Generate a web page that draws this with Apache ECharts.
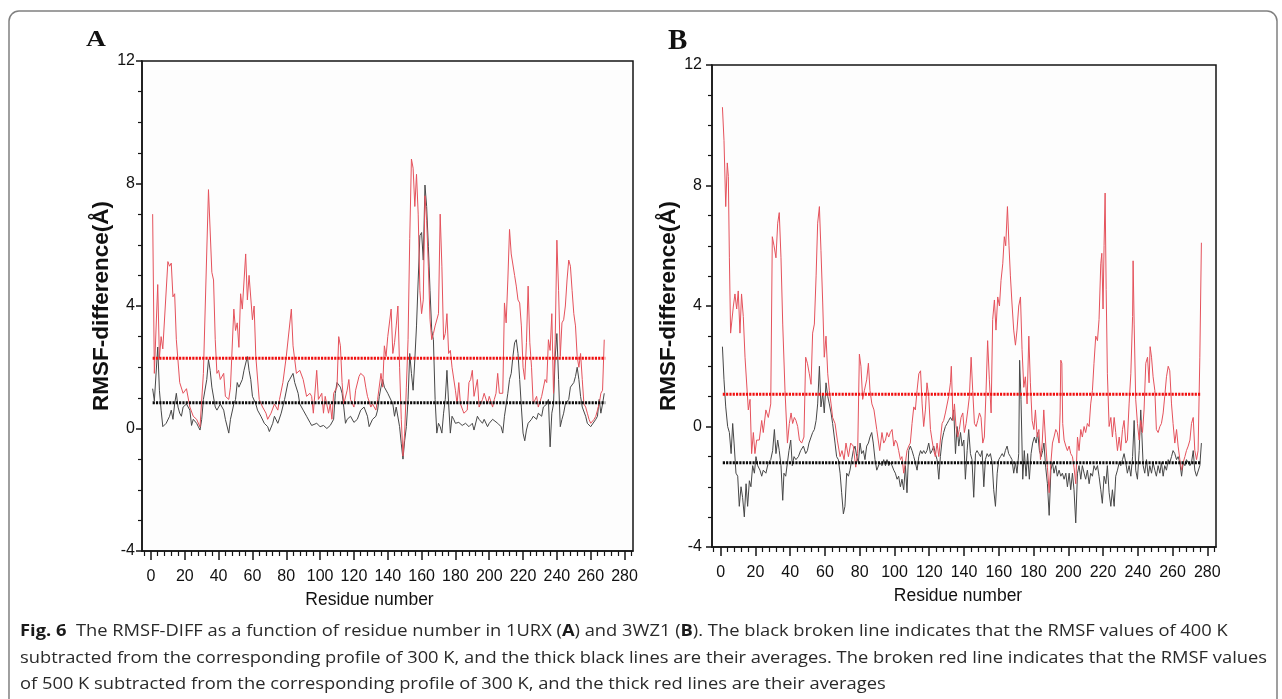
<!DOCTYPE html>
<html>
<head>
<meta charset="utf-8">
<script src="https://cdn.jsdelivr.net/npm/echarts@6/dist/echarts.min.js"></script>
<style>
html,body{margin:0;padding:0;background:#fff;}
#chart{width:1282px;height:699px;}
</style>
</head>
<body>
<div id="chart"></div>
<script>
// ---------- DATA (residue number, RMSF difference in Å) ----------
// Panel A (1URX): 500 K - 300 K (red) and 400 K - 300 K (black)
const A_RED = [[1,7.0],[2,1.8],[4,4.7],[5,2.3],[6,3.0],[7,2.6],[10,5.45],[11,5.3],[12,5.4],[13,4.3],[14,4.4],[15,2.9],[17,1.5],[19,1.15],[21,1.3],[23,0.7],[25,0.4],[27,0.3],[29,0.05],[31,1.8],[34,7.8],[36,5.1],[37,4.85],[38,2.9],[39,1.8],[40,1.9],[41,1.6],[43,1.8],[44,1.05],[46,0.95],[47,1.35],[49,3.9],[50,3.2],[51,3.45],[52,2.65],[53,4.4],[54,3.9],[56,5.7],[57,4.2],[58,5.0],[60,3.55],[61,4.0],[62,2.35],[64,0.95],[66,0.7],[68,0.5],[69,0.3],[71,0.5],[73,0.8],[75,0.6],[76,0.95],[78,1.5],[80,2.35],[83,3.9],[84,2.7],[85,2.25],[86,1.8],[88,1.9],[90,1.6],[92,1.05],[94,1.15],[95,1.05],[96,0.5],[98,1.9],[99,0.95],[101,1.15],[102,0.5],[103,1.05],[105,0.5],[106,0.8],[107,0.3],[108,1.15],[110,1.35],[111,3.0],[112,2.7],[113,1.5],[114,0.8],[116,1.25],[117,1.6],[118,0.95],[120,0.7],[121,1.25],[123,1.7],[124,1.8],[126,1.7],[127,1.35],[128,1.05],[130,0.7],[131,0.8],[133,0.6],[134,0.95],[136,1.8],[137,1.35],[138,2.7],[139,2.35],[140,3.0],[142,3.9],[143,2.45],[144,2.8],[145,3.35],[146,4.0],[147,2.0],[148,0.3],[149,-0.9],[150,-0.15],[151,1.35],[152,2.9],[153,6.2],[154,8.8],[155,8.5],[156,7.25],[157,8.3],[158,7.0],[159,4.5],[160,3.75],[161,4.2],[162,7.6],[163,6.8],[164,5.3],[165,3.55],[166,2.9],[167,3.1],[168,3.35],[170,3.75],[171,7.0],[172,5.3],[173,2.9],[174,3.1],[175,3.75],[176,2.45],[177,2.55],[178,2.0],[180,1.25],[181,0.8],[182,1.5],[183,0.8],[185,0.5],[187,0.6],[188,1.5],[189,1.6],[190,1.9],[191,1.05],[193,1.6],[194,0.7],[196,0.95],[197,1.15],[199,0.8],[200,1.05],[202,0.7],[203,0.95],[204,1.15],[205,1.8],[206,1.15],[208,1.15],[209,4.1],[210,3.45],[211,4.85],[212,6.5],[213,5.7],[215,5.0],[216,4.65],[217,4.2],[218,4.1],[219,3.35],[220,2.0],[221,1.6],[222,2.8],[223,4.65],[224,2.8],[225,2.0],[226,0.8],[228,1.05],[229,0.7],[231,1.05],[233,1.6],[234,1.5],[235,2.9],[236,2.55],[237,3.75],[238,1.15],[239,2.9],[240,6.15],[241,4.5],[242,2.35],[243,3.45],[244,3.55],[245,4.0],[246,4.85],[247,5.5],[248,5.3],[249,4.5],[250,3.75],[251,3.35],[252,2.35],[253,2.0],[254,2.45],[255,1.6],[256,0.8],[257,0.7],[258,0.5],[259,0.3],[260,0.17],[262,0.3],[263,0.4],[265,0.8],[266,1.15],[267,1.25],[268,2.9]];
const A_BLACK = [[1,1.3],[2,0.9],[4,2.66],[5,1.25],[6,0.6],[7,0.06],[8,0.0],[9,0.17],[11,0.4],[12,0.6],[13,0.3],[14,0.8],[15,1.15],[16,0.7],[17,0.5],[18,0.4],[19,0.7],[21,0.8],[23,0.6],[24,0.1],[25,0.3],[27,0.17],[28,0.06],[29,-0.05],[30,0.3],[31,0.95],[33,1.6],[34,2.25],[35,1.9],[36,1.35],[38,0.7],[39,0.6],[41,0.8],[43,0.6],[44,0.3],[46,-0.15],[47,0.3],[49,0.8],[50,0.95],[51,1.5],[52,1.35],[54,1.6],[55,1.9],[57,2.35],[58,1.9],[59,1.6],[60,1.05],[62,0.8],[63,0.6],[65,0.4],[67,0.17],[69,0.06],[70,-0.1],[72,0.17],[73,0.4],[75,0.17],[77,0.5],[79,0.95],[81,1.5],[82,1.6],[84,1.8],[85,1.5],[87,1.15],[88,0.8],[90,0.6],[92,0.4],[94,0.2],[95,0.1],[98,0.17],[100,0.06],[102,0.1],[104,0.0],[106,0.1],[108,0.3],[109,1.15],[110,1.5],[112,1.35],[113,1.15],[114,0.7],[115,0.17],[116,0.3],[118,0.4],[120,0.2],[122,0.3],[124,0.6],[126,0.7],[128,0.4],[129,0.06],[131,0.3],[133,0.4],[134,0.6],[135,1.05],[136,1.35],[137,1.6],[138,1.35],[140,1.15],[141,1.15],[143,0.8],[144,0.4],[145,0.7],[147,0.06],[148,-0.5],[149,-1.0],[150,-0.4],[151,0.06],[152,0.95],[153,2.45],[154,1.8],[155,1.25],[156,2.25],[157,3.35],[158,4.85],[159,6.3],[160,6.4],[161,5.5],[162,7.95],[163,7.25],[164,5.95],[165,4.5],[166,3.2],[167,2.9],[168,0.95],[169,-0.15],[170,0.17],[171,0.06],[172,-0.15],[173,0.5],[174,0.95],[175,1.9],[176,0.8],[177,-0.15],[178,0.4],[179,0.3],[180,0.17],[182,0.2],[184,0.1],[186,0.17],[188,0.06],[190,0.17],[191,-0.05],[193,0.4],[194,0.3],[196,0.17],[197,0.3],[199,0.06],[200,0.17],[202,0.3],[203,0.3],[205,0.17],[207,0.06],[208,-0.15],[209,0.4],[211,1.15],[212,1.6],[213,1.8],[214,2.35],[215,2.8],[216,2.9],[217,2.45],[218,1.6],[219,0.7],[220,-0.15],[221,-0.4],[222,-0.05],[223,0.17],[225,0.3],[226,0.4],[228,0.3],[229,0.5],[231,0.4],[232,0.7],[234,0.8],[235,0.95],[236,-0.6],[237,0.5],[238,0.8],[239,2.35],[240,3.1],[241,1.6],[242,0.06],[243,0.3],[244,0.5],[245,0.8],[247,0.95],[248,1.35],[250,1.5],[251,1.7],[252,2.0],[253,1.6],[254,1.05],[255,0.7],[257,0.4],[258,0.17],[260,0.06],[261,0.0],[263,0.3],[264,0.4],[265,0.95],[266,0.5],[267,0.8],[268,1.15]];
// Panel B (3WZ1)
const B_RED = [[1,10.6],[1.9,9.5],[2.9,7.3],[3.8,8.75],[4.4,8.3],[5,5.6],[5.7,3.1],[6.3,3.05],[7.3,4.0],[8.2,4.4],[9.2,3.9],[10.1,4.5],[11.1,3.1],[12,4.4],[13,3.65],[14,2.3],[15,2.3],[15.9,0.55],[16.9,0.9],[17.8,-0.9],[18.8,-0.2],[19.7,-0.9],[20.7,-0.45],[22.2,-0.45],[23.6,0.2],[24.5,-0.2],[26,0.55],[27.4,0.3],[28.8,0.75],[29.7,6.3],[30.7,6.0],[31.8,5.6],[32.8,6.75],[33.7,7.1],[34.7,5.6],[35.7,3.4],[37,1.2],[38.4,-0.55],[39.5,0.1],[40.5,0.45],[41.4,0.1],[42.4,0.3],[43.3,0.2],[44.3,0],[45.3,-0.45],[46.6,-0.55],[47.9,-0.35],[48.9,2.3],[49.9,2.1],[51,1.75],[52,1.4],[52.9,3.1],[53.9,3.4],[54.9,5.0],[55.8,6.75],[56.8,7.3],[57.7,5.85],[58.7,4.1],[59.6,2.3],[60.6,3.0],[61.6,1.75],[62.5,1.2],[63.5,0.75],[64.4,0.3],[65.8,0.1],[67.1,-0.45],[68.7,-1.0],[69.8,-0.8],[71,-1.1],[72.1,-0.55],[73.5,-1.0],[74.8,-0.55],[76.3,-0.65],[77.7,-1.35],[78.8,-0.9],[79.8,2.4],[80.7,2.0],[81.7,0.9],[82.7,1.2],[84,1.55],[85,2.1],[85.9,1.2],[87,0.75],[88.2,0.55],[89.8,-0.1],[91.5,-0.8],[92.8,-0.2],[93.8,-0.55],[94.8,-0.45],[95.7,-0.2],[96.7,-0.35],[97.6,-0.2],[98.6,-0.1],[99.6,-0.65],[100.5,-0.45],[101.5,-0.55],[102.4,-0.8],[103.4,-1.1],[104.3,-1.0],[105.3,-1.55],[106.3,-1.2],[107.2,-0.8],[108.2,-0.65],[109.1,-0.55],[110.1,0.1],[111.1,0.65],[112,0.55],[113,1.2],[114,1.75],[115,1.85],[115.9,0.75],[116.8,0],[117.8,0.55],[118.7,1.45],[119.7,1.0],[120.7,-0.1],[121.6,-0.45],[122.6,-0.8],[123.5,-1.0],[124.5,-0.55],[125.5,-1.0],[126.4,-0.45],[127.4,0.1],[128.3,0.2],[129.3,0.45],[130.3,0.45],[131.2,1.0],[132.2,1.45],[132.7,2.0],[133.7,0.2],[134.5,0.75],[135.4,0],[136.4,-0.35],[137.3,-0.1],[138.3,0.3],[139.3,0.45],[140.2,-0.2],[141.2,0.1],[142.2,0.55],[143.1,1.0],[144.1,2.3],[145,1.2],[146,0.1],[147,0],[147.9,0.2],[148.9,0.45],[149.8,0.3],[150.8,-0.55],[151.7,-0.35],[152.7,1.2],[153.6,2.85],[154.6,1.55],[155.6,0.45],[156.5,3.55],[157.5,4.2],[158.4,3.2],[159.4,4.3],[160.4,4.0],[161.3,4.85],[162.3,5.4],[163.2,6.3],[164,6.0],[165,7.3],[165.9,6.0],[166.7,5.0],[167.6,4.1],[168.6,3.2],[169.6,2.7],[170.5,3.2],[171.5,4.0],[172.5,4.3],[173.4,2.55],[174.4,1.3],[175.3,1.65],[176.3,0.75],[177.3,3.0],[178.2,1.45],[179.2,0.2],[180.2,-0.1],[181.1,0.55],[182.1,-0.35],[183.1,-0.1],[184,-1.1],[185,-0.55],[185.9,0.55],[187,-0.55],[188,-1.35],[189,-2.2],[190,-1.2],[190.9,-0.55],[191.8,-0.35],[192.8,-0.1],[193.7,-0.2],[194.7,-0.55],[195.3,0.45],[195.7,2.2],[196.3,2.1],[196.8,0.1],[197.6,-0.45],[198.6,-0.65],[199.5,-0.8],[200.5,-0.65],[201.4,-0.9],[202.4,-1.0],[203.3,-1.35],[204.3,-1.9],[205.3,-0.35],[206.2,-0.8],[207.2,-0.1],[208.1,-0.35],[209.1,0],[210,-0.2],[211,0.1],[212,0],[212.9,0.75],[213.9,1.2],[214.8,2.1],[215.8,3.0],[216.8,2.85],[217.7,3.55],[218.7,5.4],[219.3,5.75],[220,3.9],[220.6,6.0],[221.2,7.75],[221.8,4.55],[222.5,1.75],[223.5,0],[224.5,0.3],[225.4,-0.35],[226.4,0.3],[227.3,-0.2],[228.3,-0.8],[229.3,-0.35],[230.2,-0.8],[231.2,-0.1],[232.1,0.2],[233.1,-0.55],[234,-0.45],[235,0.75],[236,1.75],[237,3.65],[237.3,5.5],[237.9,3.4],[238.8,0.9],[239.8,0.1],[240.8,-0.45],[241.7,0.2],[242.7,-0.2],[243.6,0.55],[244.6,2.1],[245.6,2.3],[246.5,1.45],[247.1,2.65],[247.9,2.3],[248.8,1.65],[249.8,1.2],[250.7,-0.1],[251.7,-0.2],[252.7,0],[253.6,0.1],[254.6,0.45],[255.5,1.0],[256.5,1.65],[257.5,2.0],[258.4,1.85],[259.4,0.75],[260.3,0.1],[261.3,-0.55],[262.3,-0.1],[263.2,-0.65],[264.2,-1.1],[265.2,-1.45],[266.1,-1.2],[267.1,-1.0],[268,-0.8],[269,-0.65],[270,-0.45],[270.9,0.1],[271.9,0.3],[272.8,-0.8],[273.8,-1.1],[274.7,-0.8],[275.7,2.3],[276.6,6.1]];
const B_BLACK = [[1,2.65],[1.9,1.55],[2.9,0.65],[4,0],[5,-0.2],[6,-0.9],[6.9,0.1],[7.7,-0.55],[8.8,-1.55],[9.8,-1.65],[10.7,-2.65],[11.7,-2.0],[12.6,-2.35],[13.6,-3.0],[14.6,-1.9],[15.5,-2.65],[16.5,-1.8],[17.4,-2.0],[18.4,-1.3],[19.4,-1.55],[20.3,-1.0],[21.3,-1.3],[22.6,-1.45],[23.6,-1.65],[24.5,-1.45],[26,-1.55],[27.4,-1.2],[28.8,-1.1],[29.9,-0.8],[30.9,-0.1],[31.8,-0.9],[32.8,-0.45],[33.7,-0.8],[34.7,-1.3],[35.7,-2.45],[36.4,-1.55],[37.4,-1.65],[38.4,-1.2],[39.3,-0.8],[40.3,-0.45],[41.2,-1.3],[42.2,-1.0],[43.3,-1.1],[44.7,-1.0],[46,-0.8],[47.6,-0.65],[48.9,-0.9],[49.9,-0.8],[50.8,-0.55],[52,-0.35],[52.9,-0.2],[53.9,-0.1],[54.9,0.2],[55.8,0.75],[56.8,2.0],[57.7,0.65],[58.7,1.1],[59.6,0.45],[60.6,1.45],[61.6,1.0],[62.5,0.75],[63.5,0.45],[64.4,0.1],[65.8,-0.55],[66.7,-1.0],[67.7,-1.1],[68.7,-1.55],[69.6,-2.2],[70.6,-2.9],[71.5,-2.65],[72.5,-1.55],[73.5,-1.65],[74.4,-1.45],[75.4,-1.1],[76.3,-0.8],[77.3,-0.65],[78.3,-1.0],[79.2,-1.2],[80.2,-0.55],[81.1,-0.9],[82.1,-0.8],[83,-1.1],[84,-0.65],[85,-0.55],[85.9,-0.35],[86.9,-0.2],[87.8,-0.55],[88.8,-1.1],[89.8,-1.45],[91.5,-1.2],[92.8,-1.3],[93.8,-1.1],[94.8,-1.3],[95.7,-1.1],[96.7,-1.3],[97.6,-1.2],[98.6,-1.3],[99.6,-1.45],[100.5,-1.55],[101.5,-1.75],[102.4,-1.65],[103.4,-2.0],[104.3,-1.75],[105.3,-2.1],[106.3,-1.3],[107.2,-2.2],[108.2,-0.8],[109.1,-0.65],[110.1,-0.8],[111.1,-1.0],[112,-1.2],[113,-1.45],[114,-1.0],[115,-0.8],[115.9,-0.9],[116.8,-0.8],[117.8,-0.9],[118.7,-0.8],[119.7,-0.55],[120.7,-0.9],[121.6,-0.8],[122.6,-0.65],[123.5,-0.9],[124.5,-1.1],[125.5,-1.75],[126.4,-1.0],[127.4,-0.45],[128.3,-0.2],[129.3,0],[130.3,0.1],[131.2,0.2],[132.2,0.3],[133.2,0.2],[134.1,0.55],[135.1,-0.9],[136,0],[137,-0.65],[138,-0.2],[138.9,-0.65],[139.9,-0.45],[140.8,-1.75],[141.8,-0.8],[142.7,-0.1],[143.7,-0.9],[144.6,-1.1],[145.6,-2.35],[146.6,-0.9],[147.5,-0.8],[148.5,-0.9],[149.5,-1.0],[150.4,-0.8],[151.4,-2.0],[152.3,-1.1],[153.3,-0.9],[154.2,-1.0],[155.2,-0.9],[156.2,-1.2],[157.1,-2.1],[158.1,-2.65],[159.1,-1.55],[160,-1.1],[161,-1.0],[162,-0.9],[162.9,-1.0],[163.8,-0.8],[164.8,-0.65],[165.7,-0.9],[166.7,-1.0],[167.6,-1.1],[168.6,-1.55],[169.6,-1.2],[170.5,-1.55],[171.5,-0.9],[172,2.2],[172.8,0.9],[173.8,-1.75],[174.7,-0.8],[175.7,-1.65],[176.6,-0.9],[177.6,-1.75],[178.6,-0.9],[179.5,-0.55],[180.5,-0.35],[181.5,-0.55],[182.4,-0.2],[183.4,-0.8],[184.4,-1.0],[185.3,-0.8],[186,-0.55],[187,-1.35],[188,-1.9],[189,-2.95],[190,-1.45],[190.9,-1.2],[191.8,-1.55],[192.8,-1.3],[193.7,-1.65],[194.7,-1.45],[195.7,-1.65],[196.6,-1.55],[197.6,-1.75],[198.6,-1.55],[199.5,-2.0],[200.5,-1.55],[201.4,-2.1],[202.4,-1.55],[203.3,-2.1],[204.3,-3.2],[205.3,-1.55],[206.2,-1.3],[207.2,-1.75],[208.1,-1.3],[209.1,-1.55],[210,-1.75],[211,-1.45],[212,-1.9],[212.9,-1.55],[213.9,-1.65],[214.8,-1.3],[215.8,-1.45],[216.8,-1.3],[217.7,-1.65],[218.7,-2.1],[219.6,-2.55],[220.6,-1.65],[221.6,-1.9],[222.5,-1.3],[223.5,-2.2],[224.5,-2.65],[225.4,-2.1],[226.4,-2.65],[227.3,-1.65],[228.3,-1.45],[229.3,-1.2],[230.2,-1.3],[231.2,-1.1],[232.1,-0.9],[233.1,-1.2],[234,-1.55],[235,-1.3],[236,-1.65],[237,-1.0],[237.9,0.2],[238.8,-1.45],[239.8,-1.75],[240.8,-0.8],[241.7,0.55],[242.3,-0.2],[243.1,-1.3],[244,-1.55],[245,-1.1],[246,-1.65],[246.9,-1.3],[247.9,-1.55],[248.8,-1.2],[249.8,-1.45],[250.7,-1.65],[251.7,-1.3],[252.7,-1.55],[253.6,-1.2],[254.6,-1.65],[255.5,-1.3],[256.5,-1.45],[257.5,-1.1],[258.4,-1.2],[259.4,-1.0],[260.3,-0.8],[261.3,-0.9],[262.3,-1.1],[263.2,-1.0],[264.2,-1.2],[265.2,-1.65],[266.1,-1.2],[267.1,-1.3],[268,-1.1],[269,-1.2],[270,-1.3],[270.9,-1.2],[271.9,-0.8],[272.8,-1.45],[273.8,-1.65],[274.7,-1.65],[275.7,-1.3],[276.6,-0.55]];
// averages [red (500 K), black (400 K)] and the residue span they cover
const A_AVG = [2.29, 0.84];
const B_AVG = [1.07, -1.2];
const A_SPAN = [1, 268.6];
const B_SPAN = [1.2, 276.4];
// axis ticks
const X_TICKS = [0,20,40,60,80,100,120,140,160,180,200,220,240,260,280];
const X_MINOR = [-4,4,8,12,16,24,28,32,36,44,48,52,56,64,68,72,76,84,88,92,96,104,108,112,116,124,128,132,136,144,148,152,156,164,168,172,176,184,188,192,196,204,208,212,216,224,228,232,236,244,248,252,256,264,268,272,276,284];
const Y_RANGE = [-4, 12];
const X_NAME = 'Residue number';
const Y_NAME = 'RMSF-difference(Å)';
const CAPTION = [
  '{b|Fig. 6}  The RMSF-DIFF as a function of residue number in 1URX ({b|A}) and 3WZ1 ({b|B}). The black broken line indicates that the RMSF values of 400 K',
  'subtracted from the corresponding profile of 300 K, and the thick black lines are their averages. The broken red line indicates that the RMSF values',
  'of 500 K subtracted from the corresponding profile of 300 K, and the thick red lines are their averages'
];

// ---------- CHART ----------
const SANS = "'Liberation Sans',Arial,sans-serif";
const CAPF = "'Open Sans','Noto Sans',sans-serif";
const AXC = '#141414';
const chart = echarts.init(document.getElementById('chart'), null, {renderer:'canvas'});

function xMajor(grid, min, max, nameShift){
  return {type:'value', gridIndex:grid, min:min, max:max, position:'bottom',
    axisLine:{onZero:false, lineStyle:{color:AXC, width:1.5}},
    axisTick:{customValues:X_TICKS, length:9, lineStyle:{color:AXC, width:1.5}},
    axisLabel:{customValues:X_TICKS, margin:18, fontSize:16, fontFamily:SANS, color:'#111'},
    splitLine:{show:false},
    name:X_NAME, nameLocation:'middle', nameGap:40,
    nameTextStyle:{fontSize:17.5, fontFamily:SANS, color:'#111', padding:[0,nameShift,0,0]}};
}
function xMinor(grid, min, max){
  return {type:'value', gridIndex:grid, min:min, max:max, position:'bottom',
    axisLine:{show:false, onZero:false},
    axisTick:{customValues:X_MINOR, length:5, lineStyle:{color:AXC, width:1.2}},
    axisLabel:{show:false}, splitLine:{show:false}};
}
function yAxis(grid, gap, margin){
  return {type:'value', gridIndex:grid, min:Y_RANGE[0], max:Y_RANGE[1], interval:4,
    axisLine:{onZero:false, lineStyle:{color:AXC, width:1.5}},
    axisTick:{length:6, lineStyle:{color:AXC, width:1.5}},
    minorTick:{show:true, splitNumber:4, length:4, lineStyle:{color:AXC, width:1.2}},
    axisLabel:{margin:margin, fontSize:16, fontFamily:SANS, color:'#111'},
    splitLine:{show:false}, minorSplitLine:{show:false},
    name:Y_NAME, nameLocation:'middle', nameGap:gap,
    nameTextStyle:{fontSize:22.5, fontWeight:'bold', fontFamily:SANS, color:'#111'}};
}
function dataLine(x, y, data, color){
  return {type:'line', xAxisIndex:x, yAxisIndex:y, data:data, symbol:'none', silent:true,
    lineStyle:{color:color, width:1}, z:2};
}
function avgLine(x, y, span, value, color){
  return {type:'line', xAxisIndex:x, yAxisIndex:y, data:[[span[0], value],[span[1], value]],
    symbol:'none', silent:true, z:5,
    lineStyle:{color:color, width:3, type:[2.2,1.1]}};
}

const option = {
  animation:false,
  backgroundColor:'#ffffff',
  grid:[
    {left:142, top:61, width:491, height:490, show:true, borderColor:AXC, borderWidth:1.5, backgroundColor:'#fdfdfd'},
    {left:712, top:65, width:504, height:482, show:true, borderColor:AXC, borderWidth:1.5, backgroundColor:'#fdfdfd'}
  ],
  xAxis:[ xMajor(0,-5.3,285,36), xMinor(0,-5.3,285), xMajor(1,-5,285,12), xMinor(1,-5,285) ],
  yAxis:[ yAxis(0,29,7), yAxis(1,22,10) ],
  series:[
    dataLine(0,0,A_BLACK,'#474747'),
    dataLine(0,0,A_RED,'#e5525c'),
    avgLine(0,0,A_SPAN,A_AVG[0],'#f01010'),
    avgLine(0,0,A_SPAN,A_AVG[1],'#0a0a0a'),
    dataLine(2,1,B_BLACK,'#474747'),
    dataLine(2,1,B_RED,'#e5525c'),
    avgLine(2,1,B_SPAN,B_AVG[0],'#f01010'),
    avgLine(2,1,B_SPAN,B_AVG[1],'#0a0a0a')
  ],
  graphic:[
    {type:'rect', silent:true, shape:{x:9, y:11, width:1268, height:760, r:10},
      style:{fill:'none', stroke:'#808080', lineWidth:1.5}},
    {type:'text', silent:true, x:86, y:29, scaleX:1.2, style:{text:'A', font:"bold 23px 'Liberation Serif','Times New Roman',serif", fill:'#111'}},
    {type:'text', silent:true, x:668, y:27, style:{text:'B', font:"bold 29px 'Liberation Serif','Times New Roman',serif", fill:'#111'}}
  ].concat(CAPTION.map(function(line, i){
    return {type:'text', silent:true, x:20, y:623 + i*26.5, scaleX:1.11,
      style:{text:line, fontSize:16.5, fontFamily:CAPF, fill:'#2a2a2a',
        rich:{b:{fontSize:16.5, fontWeight:'bold', fontFamily:CAPF, fill:'#1a1a1a'}}}};
  }))
};
chart.setOption(option);
</script>
</body>
</html>
